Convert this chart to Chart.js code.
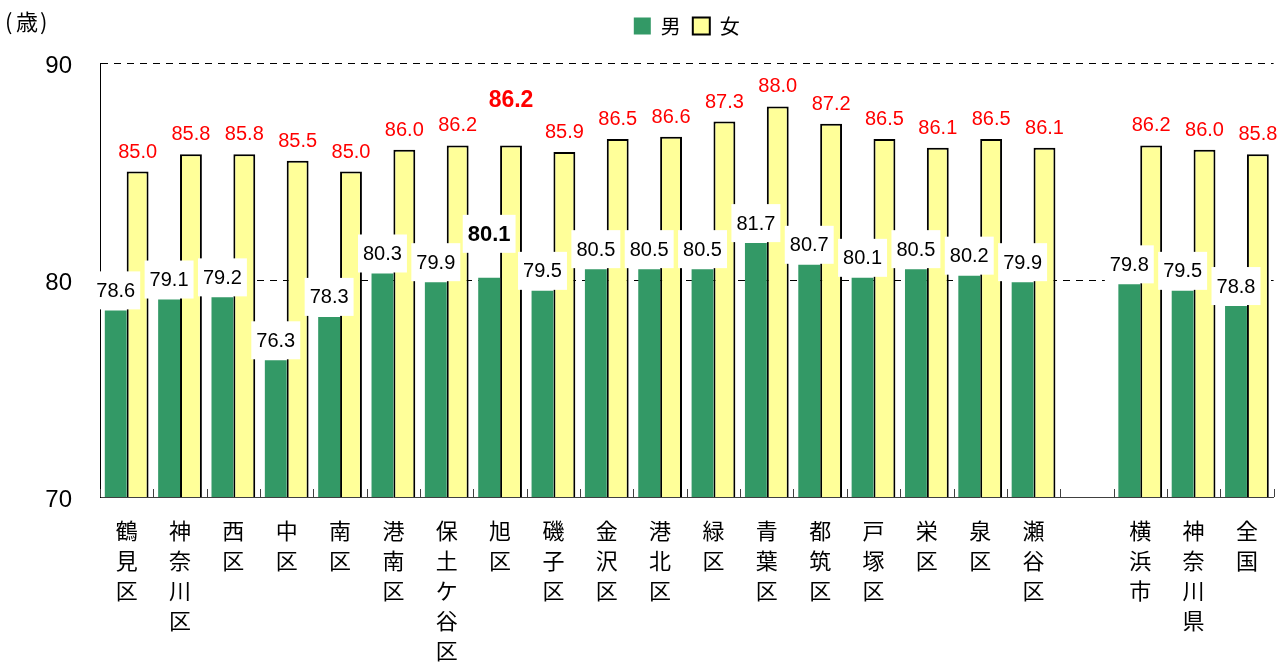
<!DOCTYPE html>
<html><head><meta charset="utf-8">
<script src="https://cdn.jsdelivr.net/npm/chart.js@4"></script>
<style>html,body{margin:0;padding:0;background:#fff;overflow:hidden}#wrap{width:1277px;height:662px}</style>
</head><body><div id="wrap"><canvas id="c" width="1277" height="662"></canvas></div>
<script>
const categories = ['鶴見区','神奈川区','西区','中区','南区','港南区','保土ケ谷区','旭区','磯子区','金沢区','港北区','緑区','青葉区','都筑区','戸塚区','栄区','泉区','瀬谷区','','横浜市','神奈川県','全国'];
const male   = [78.6,79.1,79.2,76.3,78.3,80.3,79.9,80.1,79.5,80.5,80.5,80.5,81.7,80.7,80.1,80.5,80.2,79.9,null,79.8,79.5,78.8];
const female = [85.0,85.8,85.8,85.5,85.0,86.0,86.2,86.2,85.9,86.5,86.6,87.3,88.0,87.2,86.5,86.1,86.5,86.1,null,86.2,86.0,85.8];
const yTicks = [70,80,90];
const seriesNames = ['男','女'];
const unitLabel = '歳';
const highlight = '旭区';

const CJK = '"Noto Sans CJK JP", "Noto Sans", sans-serif';
const NUM = '"Liberation Sans", Arial, sans-serif';

const decoPlugin = {
  id: 'deco',
  beforeLayout(chart) {
    const lg = chart.legend;
    if (lg && !lg._wrapped) {
      const f = lg.fit.bind(lg);
      lg.fit = function () { f(); this.height = 59; };
      lg._wrapped = true;
    }
  },
  afterDatasetsDraw(chart) {
    const ctx = chart.ctx;
    const xs = chart.scales.x;
    const area = chart.chartArea;
    ctx.save();
    const n = categories.length;
    const half = (xs.getPixelForValue(1) - xs.getPixelForValue(0)) / 2;
    ctx.strokeStyle = '#404040';
    ctx.lineWidth = 1;
    for (let i = 0; i <= n; i++) {
      const px = i < n ? xs.getPixelForValue(i) - half : xs.getPixelForValue(n - 1) + half;
      const x = Math.round(px) + 0.5;
      ctx.beginPath(); ctx.moveTo(x, area.bottom); ctx.lineTo(x, area.bottom - 8); ctx.stroke();
    }
    const mMeta = chart.getDatasetMeta(0), fMeta = chart.getDatasetMeta(1);
    mMeta.data.forEach((bar, i) => {
      const v = male[i]; if (v == null) return;
      const hi = categories[i] === highlight;
      ctx.font = (hi ? 'bold 22px ' : '20px ') + NUM;
      const txt = v.toFixed(1);
      const w = ctx.measureText(txt).width + 10;
      const h = 38;
      const bottom = bar.y - 1 - (hi ? 24 : 0);
      ctx.fillStyle = '#fff';
      ctx.fillRect(bar.x - w / 2, bottom - h, w, h);
      ctx.fillStyle = '#000'; ctx.textAlign = 'center'; ctx.textBaseline = 'middle';
      ctx.fillText(txt, bar.x, bottom - h / 2 + 1);
    });
    fMeta.data.forEach((bar, i) => {
      const v = female[i]; if (v == null) return;
      const hi = categories[i] === highlight;
      ctx.font = (hi ? 'bold 23px ' : '20px ') + NUM;
      ctx.fillStyle = '#ff0000'; ctx.textAlign = 'center'; ctx.textBaseline = 'alphabetic';
      ctx.fillText(v.toFixed(1), bar.x, bar.y - 14 - (hi ? 24 : 0));
    });
    ctx.restore();
  },
  afterDraw(chart) {
    const ctx = chart.ctx;
    ctx.save();
    ctx.fillStyle = '#000';
    ctx.textBaseline = 'middle';
    ctx.font = '22px ' + CJK;
    ctx.textAlign = 'left';
    ctx.fillText('(', 5, 22);
    ctx.fillText(unitLabel, 16, 22);
    ctx.fillText(')', 40, 22);
    ctx.restore();
  }
};

new Chart(document.getElementById('c'), {
  type: 'bar',
  data: {
    labels: categories.map(s => s.split('')),
    datasets: [
      { label: seriesNames[0], data: male, backgroundColor: '#339966', borderWidth: 0,
        barPercentage: 1, categoryPercentage: 0.82 },
      { label: seriesNames[1], data: female, backgroundColor: '#FFFF99', borderColor: '#000000',
        borderWidth: 2, borderSkipped: false, barPercentage: 1, categoryPercentage: 0.82 }
    ]
  },
  options: {
    responsive: false, animation: false, devicePixelRatio: 1,
    layout: { padding: { left: 0, right: 2, top: 4, bottom: 0 } },
    plugins: {
      tooltip: { enabled: false },
      legend: {
        position: 'top', fullSize: false,
        labels: { font: { family: CJK, size: 20 }, color: '#000', boxWidth: 17, boxHeight: 17, padding: 12 }
      }
    },
    scales: {
      x: {
        grid: { display: false, drawTicks: false },
        border: { display: true, color: '#404040', width: 1 },
        ticks: { font: { family: CJK, size: 22, lineHeight: 30 / 22 }, color: '#000',
          maxRotation: 0, minRotation: 0, autoSkip: false, padding: 19 },
        afterFit: s => { s.height = 165; }
      },
      y: {
        min: 70, max: 90,
        afterBuildTicks: s => { s.ticks = yTicks.map(v => ({ value: v })); },
        grid: { color: c => (c.tick && c.tick.value === yTicks[0]) ? 'rgba(0,0,0,0)' : '#000', lineWidth: 1, drawTicks: false },
        border: { display: true, color: '#000', width: 1, dash: [7, 6] },
        ticks: { font: { family: NUM, size: 24 }, color: '#000', padding: 28, labelOffset: 3 },
        afterFit: s => { s.width = 100; }
      }
    }
  },
  plugins: [decoPlugin]
});
</script>
</body></html>
